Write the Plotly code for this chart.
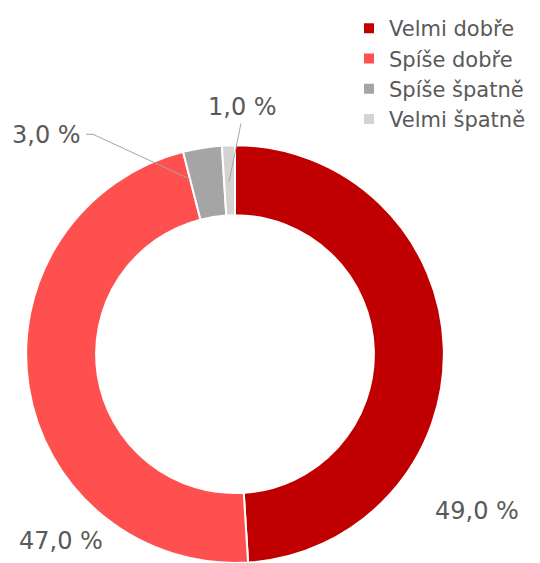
import plotly.graph_objects as go

categories = ["Velmi dobře", "Spíše dobře", "Spíše špatně", "Velmi špatně"]
values = [49.0, 47.0, 3.0, 1.0]
colors = ["#C00000", "#FF5050", "#A5A5A5", "#D3D3D3"]
label_texts = [f"{v:.1f} %".replace(".", ",") for v in values]

# page body has an 8px margin: figure sits at (8, 8) in the window
OFF = 8
W, H = 540 - OFF, 563 - OFF

# label centres in window pixels (x from left, y from top)
label_pos = [(477, 511), (61, 541), (46, 133), (242, 105)]

def fx(px):
    return (px - OFF) / W

def fy(py):
    return 1 - (py - OFF) / H

cx, cy, R = 235, 354, 210
fig = go.Figure()
fig.add_trace(go.Pie(
    labels=categories, values=values, sort=False, direction="clockwise",
    rotation=0, hole=0.665, textinfo="none", hoverinfo="label+percent",
    marker=dict(colors=colors, line=dict(color="white", width=2)),
    domain=dict(x=[fx(cx - R), fx(cx + R)], y=[0, 2 * R / H]),
))

for txt, (px, py) in zip(label_texts, label_pos):
    fig.add_annotation(x=fx(px), y=fy(py), xref="paper", yref="paper",
                       xanchor="center", yanchor="middle",
                       text=txt, showarrow=False,
                       font=dict(family="DejaVu Sans", size=24, color="#595959"))

def P(px, py):
    return f"{fx(px)},{fy(py)}"

fig.add_shape(type="path", xref="paper", yref="paper",
              path=f"M {P(86, 132)} L {P(93, 132)} L {P(190, 177)}",
              line=dict(color="#A6A6A6", width=1))
fig.add_shape(type="path", xref="paper", yref="paper",
              path=f"M {P(241, 121)} L {P(229, 180)}",
              line=dict(color="#A6A6A6", width=1))

fig.update_layout(
    width=W, height=H, margin=dict(l=0, r=0, t=0, b=0),
    paper_bgcolor="white", plot_bgcolor="white",
    showlegend=True,
    legend=dict(x=fx(349), y=fy(5), xanchor="left", yanchor="top",
                font=dict(family="DejaVu Sans", size=21, color="#595959"),
                bgcolor="rgba(0,0,0,0)", traceorder="normal"),
)

fig.write_html("out.html")
